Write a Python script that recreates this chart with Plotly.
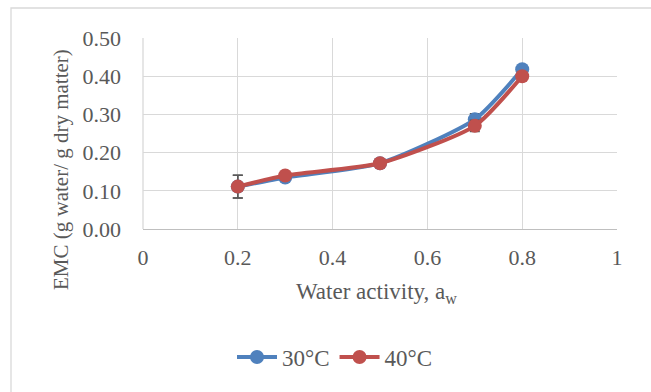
import plotly.graph_objects as go

aw = [0.2, 0.3, 0.5, 0.7, 0.8]
emc_30 = [0.111, 0.135, 0.172, 0.287, 0.418]
emc_40 = [0.111, 0.140, 0.172, 0.270, 0.400]
err_30 = [0.03, 0.005, 0.005, 0.015, 0.005]
err_40 = [0.03, 0.005, 0.005, 0.015, 0.005]

x_ticks = [0, 0.2, 0.4, 0.6, 0.8, 1]
x_labels = ["0", "0.2", "0.4", "0.6", "0.8", "1"]
y_ticks = [0, 0.1, 0.2, 0.3, 0.4, 0.5]
y_labels = ["0.00", "0.10", "0.20", "0.30", "0.40", "0.50"]
x_title = "Water activity, a<sub>w</sub>"
y_title = "EMC (g water/ g dry matter)"

FONT = "Liberation Serif"
TXT = "#595959"

fig = go.Figure()
fig.add_trace(go.Scatter(
    x=aw, y=emc_30, name="30°C", mode="lines+markers",
    line=dict(color="#4f81bd", width=4, shape="spline", smoothing=0.6),
    marker=dict(color="#4f81bd", size=14),
    error_y=dict(type="data", array=err_30, color="#595959", thickness=1.5, width=5),
))
fig.add_trace(go.Scatter(
    x=aw, y=emc_40, name="40°C", mode="lines+markers",
    line=dict(color="#c0504d", width=4, shape="spline", smoothing=0.6),
    marker=dict(color="#c0504d", size=14),
    error_y=dict(type="data", array=err_40, color="#595959", thickness=1.5, width=5),
))

W, H = 651, 392
L, R, T, B = 143, 34, 38, 163
pw, ph = W - L - R, H - T - B


def px_x(px):
    return (px - L) / pw


def px_y(py):
    return ((H - B) - py) / ph


fig.update_layout(
    width=W, height=H,
    margin=dict(l=L, r=R, t=T, b=B),
    paper_bgcolor="white", plot_bgcolor="white",
    font=dict(family=FONT, color=TXT, size=22),
    showlegend=True,
    legend=dict(orientation="h", x=px_x(335), xanchor="center",
                y=px_y(357), yanchor="middle",
                font=dict(family=FONT, size=23, color=TXT), itemwidth=40),
    xaxis=dict(range=[0, 1], tickvals=x_ticks, ticktext=x_labels,
               tickfont=dict(family=FONT, size=22, color=TXT),
               showgrid=True, gridcolor="#d9d9d9", gridwidth=1.3,
               showline=True, linecolor="#bfbfbf", linewidth=1.3, mirror=False,
               zeroline=False, ticklabelstandoff=8),
    yaxis=dict(range=[0, 0.5], tickvals=y_ticks, ticktext=y_labels,
               tickfont=dict(family=FONT, size=22, color=TXT),
               showgrid=True, gridcolor="#d9d9d9", gridwidth=1.3,
               showline=False, zeroline=False, ticklabelstandoff=21),
    annotations=[
        dict(text=x_title, xref="paper", yref="paper", x=px_x(376), y=px_y(293),
             xanchor="center", yanchor="middle", showarrow=False,
             font=dict(family=FONT, size=23, color=TXT)),
        dict(text=y_title, xref="paper", yref="paper", x=px_x(61), y=px_y(170),
             xanchor="center", yanchor="middle", showarrow=False, textangle=-90,
             font=dict(family=FONT, size=21, color=TXT)),
    ],
)
fig.add_shape(type="line", xref="paper", yref="paper", x0=0, x1=0, y0=0, y1=1,
              line=dict(color="#d9d9d9", width=1.3), layer="below")
# outer chart border (only top and left edges fall inside the picture)
fig.add_shape(type="rect", xref="paper", yref="paper",
              x0=px_x(11), x1=px_x(W + 20), y0=px_y(H + 20), y1=px_y(8),
              line=dict(color="#d9d9d9", width=1.3), layer="below")

fig.write_html("out.html", config={"displayModeBar": False})
with open("out.html", "r", encoding="utf-8") as f:
    html = f.read()
html = html.replace("<head>", "<head><style>html,body{margin:0;padding:0;overflow:hidden;}</style>", 1)
with open("out.html", "w", encoding="utf-8") as f:
    f.write(html)
